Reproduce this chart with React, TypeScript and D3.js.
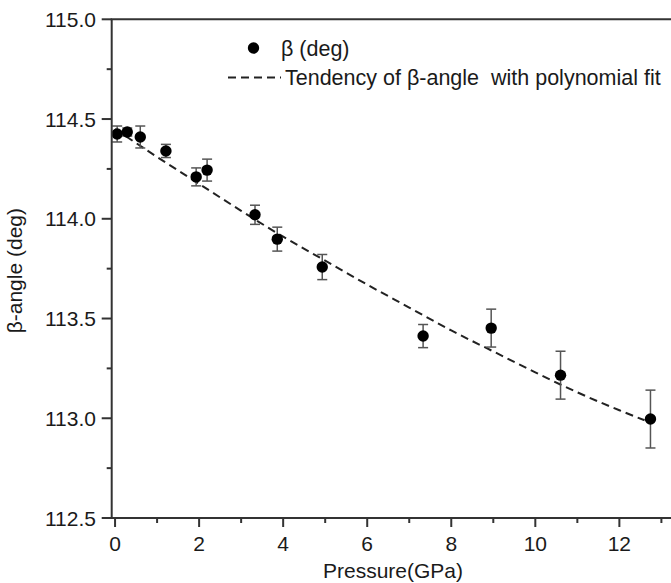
import React from "react";
import * as d3 from "d3";

const pressure = [0.05, 0.29, 0.6, 1.21, 1.93, 2.19, 3.33, 3.86, 4.93, 7.33, 8.95, 10.6, 12.74];
const beta = [114.425, 114.435, 114.41, 114.34, 114.21, 114.244, 114.02, 113.898, 113.758, 113.412, 113.452, 113.216, 112.996];
const betaErr = [0.04, 0.02, 0.055, 0.033, 0.045, 0.055, 0.048, 0.06, 0.063, 0.058, 0.095, 0.12, 0.145];

// Polynomial-fit tendency line
const fitPressure = [0, 1, 2, 3, 4, 5, 6, 7, 8, 9, 10, 11, 12, 12.6];
const fitBeta = [114.45, 114.31, 114.175, 114.04, 113.91, 113.79, 113.67, 113.555, 113.44, 113.335, 113.23, 113.13, 113.04, 112.99];

const xMajorTicks = [0, 2, 4, 6, 8, 10, 12];
const xMinorTicks = [1, 3, 5, 7, 9, 11, 13];
const yMajorTicks = [112.5, 113.0, 113.5, 114.0, 114.5, 115.0];
const yMinorTicks = [112.75, 113.25, 113.75, 114.25, 114.75];

const legendLabels = ["\u03b2 (deg)", "Tendency of \u03b2-angle  with polynomial fit"];
const xTitle = "Pressure(GPa)";
const yTitle = "\u03b2-angle (deg)";

const W = 671;
const H = 583;
const FONT = "'Liberation Sans', Arial, Helvetica, sans-serif";

export default function App() {
  const x = d3.scaleLinear().domain([-0.08, 13.3]).range([111.7, 674]);
  const y = d3.scaleLinear().domain([112.5, 115]).range([518, 19.3]);
  const axisColor = "#333";
  const textColor = "#1a1a1a";

  const fitPts: [number, number][] = fitPressure.map((p, i) => [x(p), y(fitBeta[i])]);
  const line = d3.line().curve(d3.curveMonotoneX)(fitPts) || "";

  const x0 = x.range()[0];
  const x1 = x.range()[1];
  const y0 = y.range()[0];
  const y1 = y.range()[1];

  return (
    <svg
      width={W}
      height={H}
      viewBox={`0 0 ${W} ${H}`}
      style={{ position: "absolute", left: 0, top: 0, background: "#fff" }}
      fontFamily={FONT}
    >
      <rect x={0} y={0} width={W} height={H} fill="#fff" />

      {/* fit line */}
      <path d={line} fill="none" stroke="#222" strokeWidth={2} strokeDasharray="8,5" />

      {/* error bars */}
      {pressure.map((p, i) => {
        const cx = x(p);
        const top = y(beta[i] + betaErr[i]);
        const bot = y(beta[i] - betaErr[i]);
        return (
          <g key={"e" + i} stroke="#555" strokeWidth={1.5}>
            <line x1={cx} x2={cx} y1={top} y2={bot} />
            <line x1={cx - 5} x2={cx + 5} y1={top} y2={top} />
            <line x1={cx - 5} x2={cx + 5} y1={bot} y2={bot} />
          </g>
        );
      })}

      {/* markers */}
      {pressure.map((p, i) => (
        <circle key={"m" + i} cx={x(p)} cy={y(beta[i])} r={5.7} fill="#000" />
      ))}

      {/* frame */}
      <g stroke={axisColor} strokeWidth={2} fill="none">
        <line x1={x0} x2={x0} y1={y1} y2={y0 + 1} />
        <line x1={x0 - 1} x2={x1} y1={y0} y2={y0} />
        <line x1={x0 - 1} x2={x1} y1={y1} y2={y1} />
        <line x1={x1} x2={x1} y1={y1} y2={y0} />
      </g>

      {/* ticks */}
      <g stroke={axisColor} strokeWidth={2}>
        {xMajorTicks.map((t) => (
          <line key={"xt" + t} x1={x(t)} x2={x(t)} y1={y0} y2={y0 + 9} />
        ))}
        {xMinorTicks.map((t) => (
          <line key={"xm" + t} x1={x(t)} x2={x(t)} y1={y0} y2={y0 + 5} />
        ))}
        {yMajorTicks.map((t) => (
          <line key={"yt" + t} x1={x0} x2={x0 - 10} y1={y(t)} y2={y(t)} />
        ))}
        {yMinorTicks.map((t) => (
          <line key={"ym" + t} x1={x0} x2={x0 - 5} y1={y(t)} y2={y(t)} />
        ))}
      </g>

      <g fill={textColor} fontSize={21}>
        {xMajorTicks.map((t) => (
          <text key={"xl" + t} x={x(t)} y={551} textAnchor="middle">
            {d3.format("d")(t)}
          </text>
        ))}
        {yMajorTicks.map((t) => (
          <text key={"yl" + t} x={96} y={y(t) + 7.5} textAnchor="end">
            {d3.format(".1f")(t)}
          </text>
        ))}
        <text x={393} y={578} textAnchor="middle">
          {xTitle}
        </text>
        <text transform={`translate(22,${(y0 + y1) / 2 + 2}) rotate(-90)`} textAnchor="middle">
          {yTitle}
        </text>
      </g>

      {/* legend */}
      <g fontSize={21.5} fill={textColor}>
        <circle cx={253.5} cy={48} r={5.7} fill="#000" />
        <text x={281} y={55.5} style={{ whiteSpace: "pre" }}>{legendLabels[0]}</text>
        <line x1={228} x2={281} y1={77.5} y2={77.5} stroke="#222" strokeWidth={2} strokeDasharray="8,5" />
        <text x={285} y={85} style={{ whiteSpace: "pre" }}>{legendLabels[1]}</text>
      </g>
    </svg>
  );
}
